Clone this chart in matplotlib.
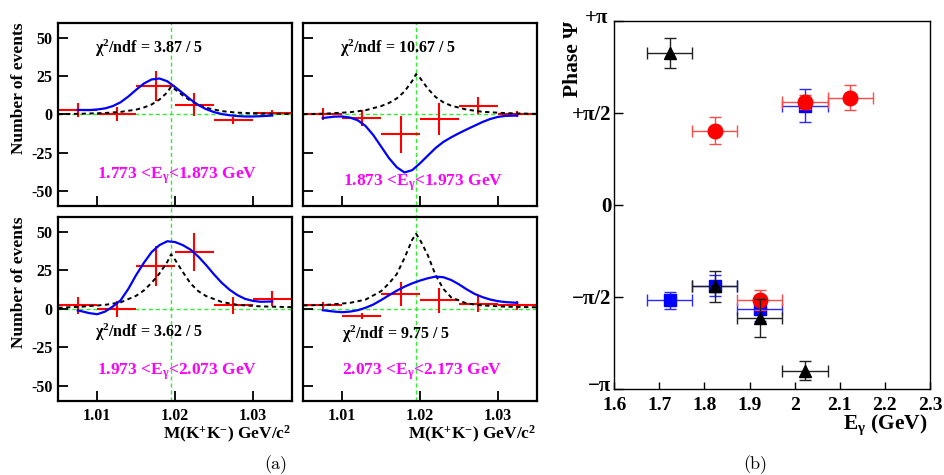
import numpy as np
import matplotlib
matplotlib.use("Agg")
from matplotlib import pyplot as plt
from matplotlib.transforms import ScaledTranslation

plt.rcParams["font.family"] = "Liberation Serif"
plt.rcParams["font.weight"] = "bold"
plt.rcParams["mathtext.fontset"] = "custom"
plt.rcParams["mathtext.rm"] = "Liberation Serif:bold"
plt.rcParams["mathtext.it"] = "Liberation Serif:italic:bold"
plt.rcParams["mathtext.bf"] = "Liberation Serif:bold"
plt.rcParams["mathtext.default"] = "rm"
plt.rcParams["axes.unicode_minus"] = False

# ---------------- (a) M(K+K-) spectra in four E_gamma bins ----------------
mkk_centers = [1.0075, 1.0125, 1.0175, 1.0225, 1.0275, 1.0325]
mkk_half_width = 0.0025
phi_mass = 1.0195

egamma_edges = ["1.773", "1.873", "1.973", "2.073", "2.173"]
chi2_labels = ["3.87 / 5", "10.67 / 5", "3.62 / 5", "9.75 / 5"]

yields_1 = [3.0, 0.3, 18.7, 6.5, -3.9, 0.9]
yields_err_1 = [4.5, 4.6, 10.0, 7.6, 2.3, 2.1]
yields_2 = [0.3, -2.2, -13.0, -3.0, 5.9, 0.5]
yields_err_2 = [4.2, 5.1, 12.2, 10.3, 5.4, 2.0]
yields_3 = [2.2, 0.0, 27.8, 37.2, 2.2, 6.6]
yields_err_3 = [5.5, 5.4, 12.8, 12.3, 5.6, 4.8]
yields_4 = [2.2, -4.8, 9.8, 5.5, 3.3, 2.2]
yields_err_4 = [2.4, 2.0, 7.7, 8.2, 5.3, 3.0]

# interference fit (blue)
fit_mkk = [1.0075, 1.009, 1.010, 1.011, 1.012, 1.013, 1.014, 1.015, 1.016, 1.017,
           1.018, 1.019, 1.020, 1.021, 1.022, 1.023, 1.024, 1.025, 1.026, 1.027,
           1.028, 1.029, 1.030, 1.031, 1.0325]
fit_1 = [3.0, 2.9, 3.3, 4.0, 5.5, 8.0, 11.8, 16.2, 20.3, 23.0,
         23.6, 21.8, 18.0, 14.0, 9.8, 6.2, 3.5, 1.6, 0.3, -0.5,
         -1.0, -1.3, -1.3, -1.1, -0.7]
fit_2 = [-2.3, -1.4, -1.3, -2.0, -3.8, -7.5, -13.5, -21.0, -28.5, -34.5,
         -38.0, -36.5, -32.0, -27.0, -22.0, -18.0, -15.0, -12.3, -9.8, -7.4,
         -5.0, -3.0, -1.6, -0.9, -0.7]
fit_3 = [-1.0, -2.8, -3.5, -1.8, 1.5, 5.5, 13.0, 22.0, 30.0, 37.0,
         41.5, 44.0, 43.5, 41.5, 38.5, 34.0, 28.5, 22.5, 17.0, 12.5,
         9.0, 6.5, 5.2, 4.6, 4.8]
fit_4 = [-0.9, -1.8, -2.2, -1.8, -0.9, 0.7, 2.8, 5.7, 8.8, 11.8,
         14.4, 16.6, 18.4, 19.9, 21.0, 20.6, 18.8, 16.0, 12.7, 9.8,
         7.7, 6.1, 5.0, 4.4, 3.9]

# pure phi line shape (black dashed)
bw_mkk = [1.005, 1.008, 1.011, 1.013, 1.015, 1.016, 1.017, 1.018, 1.019, 1.0195,
          1.020, 1.021, 1.022, 1.023, 1.024, 1.026, 1.028, 1.031, 1.035]
bw_1 = [0.2, 0.5, 1.0, 1.7, 3.2, 4.6, 6.6, 9.8, 14.5, 18.3,
        16.5, 12.5, 9.0, 6.3, 4.4, 2.2, 1.2, 0.6, 0.3]
bw_2 = [0.2, 0.6, 1.5, 2.8, 5.5, 7.5, 10.5, 15.0, 22.0, 26.5,
        24.0, 17.0, 11.5, 8.0, 5.8, 3.2, 1.8, 0.9, 0.4]
bw_3 = [0.7, 1.4, 2.6, 4.2, 8.5, 12.0, 17.0, 23.0, 30.5, 35.5,
        32.0, 24.0, 16.5, 11.5, 8.3, 4.5, 2.6, 1.6, 1.1]
bw_4 = [2.2, 2.6, 3.9, 6.0, 11.5, 16.5, 22.5, 33.0, 45.0, 48.8,
        45.0, 35.0, 22.0, 13.0, 7.5, 3.5, 2.2, 1.4, 1.0]

# ---------------- (b) phase vs E_gamma ----------------
eg_half_bin = 0.05
eg_black = [1.723, 1.823, 1.923, 2.023]
phase_black = [2.59, -1.39, -1.93, -2.83]
phase_black_err = [0.26, 0.26, 0.33, 0.16]
eg_blue = [1.723, 1.823, 1.923, 2.023]
phase_blue = [-1.63, -1.38, -1.78, 1.69]
phase_blue_err = [0.14, 0.18, 0.20, 0.28]
eg_red = [1.823, 1.923, 2.023, 2.123]
phase_red = [1.26, -1.63, 1.75, 1.83]
phase_red_err = [0.23, 0.17, 0.12, 0.22]

phase_ticks = [-np.pi, -np.pi / 2, 0, np.pi / 2, np.pi]
phase_ticklabels = ["\u2212\u03c0", "\u2212\u03c0/2", "0", "+\u03c0/2", "+\u03c0"]
eg_ticks = [1.6, 1.7, 1.8, 1.9, 2.0, 2.1, 2.2, 2.3]
eg_ticklabels = ["1.6", "1.7", "1.8", "1.9", "2", "2.1", "2.2", "2.3"]

fig = plt.figure(figsize=(9.44, 4.75), dpi=100)

panels = [
    ([0.0618, 0.5663, 0.2472, 0.3853], yields_1, yields_err_1, fit_1, bw_1, 0, (0.157, 0.863), (0.166, 0.164)),
    ([0.3213, 0.5663, 0.2472, 0.3853], yields_2, yields_err_2, fit_2, bw_2, 1, (0.157, 0.863), (0.170, 0.126)),
    ([0.0618, 0.1558, 0.2472, 0.3880], yields_3, yields_err_3, fit_3, bw_3, 2, (0.157, 0.370), (0.166, 0.158)),
    ([0.3213, 0.1558, 0.2472, 0.3880], yields_4, yields_err_4, fit_4, bw_4, 3, (0.166, 0.360), (0.166, 0.158)),
]

green = "#33ee33"
for rect, yld, yerr, fit, bw, i, chi_pos, eg_pos in panels:
    ax = fig.add_axes(rect)
    top_row = i < 2
    left_col = i % 2 == 0

    ax.set_xlim(1.005, 1.035)
    ax.set_ylim(-60, 60)

    # reference lines at zero and at the phi mass
    ax.axhline(0, color=green, lw=1.0, dashes=(3, 2), zorder=1)
    ax.axvline(phi_mass, ymin=-0.07 if top_row else 0, ymax=1, color=green, lw=1.0,
               dashes=(3, 2), clip_on=False, zorder=1)

    ax.errorbar(mkk_centers, yld, xerr=mkk_half_width, yerr=yerr, fmt="none",
                ecolor="#ff0000", elinewidth=1.5, zorder=2)
    ax.plot(bw_mkk, bw, color="black", lw=1.4, dashes=(2.2, 1.8), zorder=3)
    ax.plot(fit_mkk, fit, color="#0000ff", lw=1.6, zorder=4)

    ax.text(chi_pos[0], chi_pos[1], "\u03c7$^{2}$/ndf = " + chi2_labels[i], transform=ax.transAxes,
            fontsize=11.5, fontweight="bold", va="center", ha="left")
    ax.text(eg_pos[0], eg_pos[1],
            egamma_edges[i] + " <E$_{\\gamma}$<" + egamma_edges[i + 1] + " GeV",
            transform=ax.transAxes, fontsize=12.5, fontweight="bold", color="#ff00ff",
            va="center", ha="left")

    ax.set_xticks([1.01, 1.02, 1.03])
    ax.set_yticks([-50, -25, 0, 25, 50])
    ax.tick_params(direction="in", length=7, width=1.3, labelsize=11.5, pad=4)
    ax.tick_params(axis="x", pad=5)
    if top_row:
        ax.set_xticklabels([])
    else:
        ax.set_xticklabels(["1.01", "1.02", "1.03"])
        ax.text(1.0, -0.182, "M(K$^{+}$K$^{-}$) GeV/c$^{2}$", transform=ax.transAxes,
                fontsize=12.5, fontweight="bold", ha="right", va="center")
    if left_col:
        ax.set_yticklabels(["-50", "-25", "0", "25", "50"])
        ax.text(-0.168, 1.0, "Number of events", transform=ax.transAxes, rotation=90,
                fontsize=12.5, fontweight="bold", ha="center", va="top")
    else:
        ax.set_yticklabels([])
    for sp in ax.spines.values():
        sp.set_linewidth(1.6)

# ---------------- panel (b) ----------------
axb = fig.add_axes([0.6507, 0.1811, 0.3344, 0.7754])
axb.set_xlim(1.6, 2.3)
axb.set_ylim(-np.pi, np.pi)

axb.errorbar(eg_blue, phase_blue, xerr=eg_half_bin, yerr=phase_blue_err, fmt="s",
             color="#0000ff", ecolor="#2a2aff", ms=8.6, elinewidth=1.0, capsize=4.5,
             capthick=1.0, zorder=3)
axb.errorbar(eg_red, phase_red, xerr=eg_half_bin, yerr=phase_red_err, fmt="o",
             color="#ff0000", ecolor="#ff4a4a", ms=10.5, elinewidth=1.0, capsize=4.5,
             capthick=1.0, zorder=4)
axb.errorbar(eg_black, phase_black, xerr=eg_half_bin, yerr=phase_black_err, fmt="^",
             color="black", ecolor="#222222", ms=8.5, elinewidth=1.0, capsize=4.5,
             capthick=1.0, zorder=5)

axb.set_xticks(eg_ticks)
axb.set_xticklabels(eg_ticklabels)
axb.set_yticks(phase_ticks)
axb.set_yticklabels(phase_ticklabels)
axb.tick_params(axis="x", direction="in", length=5, width=1.0, labelsize=14, pad=6)
axb.tick_params(axis="y", direction="in", length=6.5, width=1.0, labelsize=15, pad=2)
for sp in axb.spines.values():
    sp.set_linewidth(1.0)

# the +pi / -pi labels sit slightly above their ticks
ylabels = axb.get_yticklabels()
ylabels[0].set_transform(ylabels[0].get_transform() + ScaledTranslation(0, 4 / 72, fig.dpi_scale_trans))
ylabels[-1].set_transform(ylabels[-1].get_transform() + ScaledTranslation(-2 / 72, 3.5 / 72, fig.dpi_scale_trans))

axb.text(-0.131, 1.0, "Phase \u03a8", transform=axb.transAxes, rotation=90,
         fontsize=15.5, fontweight="bold", ha="center", va="top")
axb.text(0.994, -0.098, "E$_{\\gamma}$ (GeV)", transform=axb.transAxes,
         fontsize=15.5, fontweight="bold", ha="right", va="center")

# sub-figure captions
fig.text(0.2924, 0.0211, "(a)", family="cmr10", fontweight="normal", fontsize=13,
         ha="center", va="center")
fig.text(0.7998, 0.0211, "(b)", family="cmr10", fontweight="normal", fontsize=13,
         ha="center", va="center")

fig.savefig("out.png", dpi=100)
